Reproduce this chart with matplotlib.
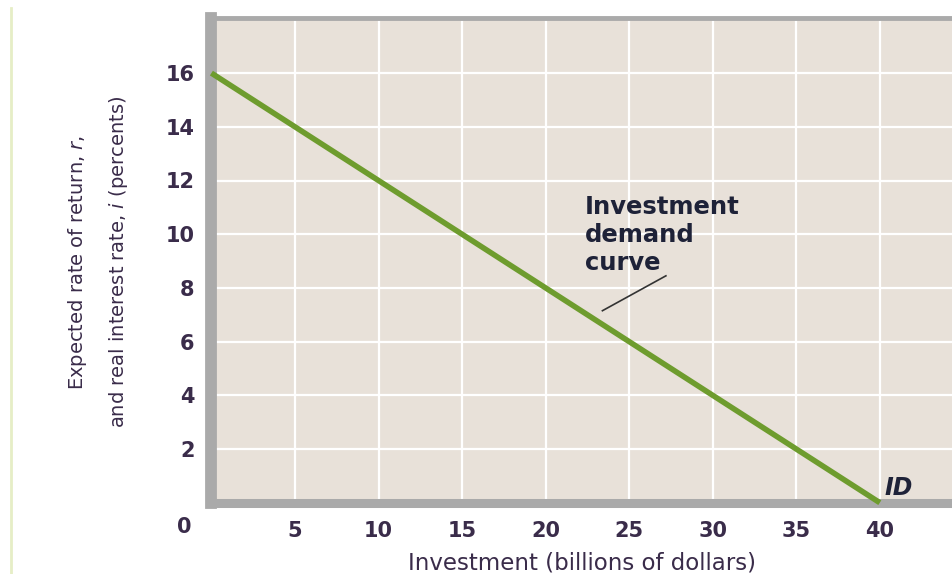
import matplotlib
matplotlib.use("Agg")
import matplotlib.pyplot as plt
from matplotlib.lines import Line2D
from matplotlib.transforms import offset_copy

# ---- data ----
investment = [0, 40]          # billions of dollars
rate = [16, 0]                # percent
x_ticks = [5, 10, 15, 20, 25, 30, 35, 40]
y_ticks = [2, 4, 6, 8, 10, 12, 14, 16]
origin_label = "0"
x_label = "Investment (billions of dollars)"
y_label = "Expected rate of return, $\\it{r}$,\nand real interest rate, $\\it{i}$ (percents)"
curve_label = "Investment\ndemand\ncurve"
id_label = "ID"

plt.rcParams['font.family'] = ['DejaVu Sans']
plt.rcParams['mathtext.fontset'] = 'dejavusans'

W, H = 952, 574
fig = plt.figure(figsize=(W / 100, H / 100), dpi=100)
fig.patch.set_facecolor("white")

x0px, y0px = 211.4, 502.7
xmax = (W - x0px) / 16.71
ax = fig.add_axes([x0px / W, 1 - y0px / H, (W - x0px) / W, (y0px - 18.0) / H])
ax.set_facecolor("#e8e1d9")
ax.set_xlim(0, xmax)
ax.set_ylim(0, 18 * (y0px - 18.0) / (y0px - 19.4))

for v in x_ticks:
    ax.axvline(v, color="white", lw=1.6, zorder=1)
for v in y_ticks:
    ax.axhline(v, color="white", lw=1.6, zorder=1)

ax.plot(investment, rate, color="#6e9c2e", lw=4.0, solid_capstyle="butt", zorder=3, clip_on=False)

ax.spines["right"].set_visible(False)
ax.spines["left"].set_color("#aaaaaa")
ax.spines["left"].set_linewidth(8.5)
ax.spines["bottom"].set_color("#aaaaaa")
ax.spines["bottom"].set_linewidth(6.5)
ax.spines["top"].set_color("#aaaaaa")
ax.spines["top"].set_linewidth(3.5)

tick_color = "#3a2c4a"
ax.set_xticks(x_ticks)
ax.set_yticks(y_ticks)
ax.tick_params(length=0, labelsize=15, labelcolor=tick_color)
ax.tick_params(axis="x", pad=13)
ax.tick_params(axis="y", pad=12)
for lab in ax.get_xticklabels() + ax.get_yticklabels():
    lab.set_fontweight("bold")

ax.text(-1.64, 0, origin_label, ha="center", va="center", fontsize=15, color=tick_color,
        weight="bold", clip_on=False,
        transform=offset_copy(ax.transData, fig=fig, y=-24, units="dots"))

ax.set_xlabel(x_label, fontsize=16.5, color=tick_color, labelpad=8)

fig.text(98 / W, 1 - 262 / H, y_label,
         rotation=90, ha="center", va="center", fontsize=14, color=tick_color,
         linespacing=2.1)

ax.text(22.35, 11.45, curve_label, ha="left", va="top", fontsize=17.5, fontweight="bold",
        color="#1e2238", linespacing=1.2)
ax.plot([23.4, 27.2], [7.15, 8.45], color="#333333", lw=1.2, zorder=4)
ax.text(40.3, 0.55, id_label, ha="left", va="center", fontsize=17, fontweight="bold",
        fontstyle="italic", color="#1e2238")

fig.add_artist(Line2D([11 / W, 11 / W], [0, 1 - 8 / H], color="#e6eec6", lw=2))

fig.savefig("out.png", dpi=100)
